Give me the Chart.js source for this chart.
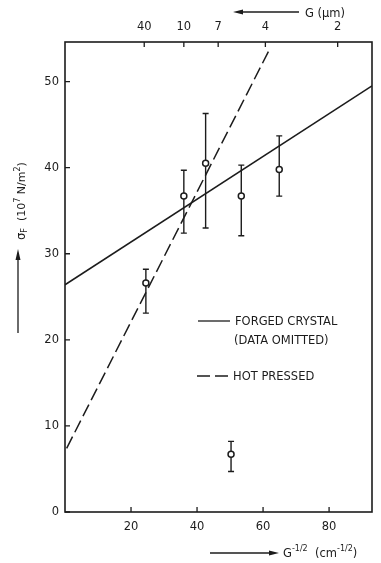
<!DOCTYPE html>
<html>
<head>
<meta charset="utf-8">
<script src="https://cdn.jsdelivr.net/npm/chart.js@4.4.1/dist/chart.umd.min.js"></script>
<style>
  html, body { margin: 0; padding: 0; background: #fff; }
  #wrap { width: 381px; height: 563px; }
</style>
</head>
<body>
<div id="wrap"><canvas id="myChart" width="381" height="563"></canvas></div>
<script>
// measured points, G^-1/2 (cm^-1/2) vs fracture stress (10^7 N/m^2)
const gInv = [24.5, 36.0, 42.6, 53.4, 64.9, 50.3];
const stress = [26.6, 36.7, 40.5, 36.7, 39.8, 6.7];
const stressHigh = [28.2, 39.7, 46.3, 40.3, 43.7, 8.2];
const stressLow = [23.1, 32.4, 33.0, 32.1, 36.7, 4.7];

// fitted lines (end points)
const forgedX = [0, 93];
const forgedY = [26.4, 49.5];
const hotX = [0.5, 62.3];
const hotY = [7.4, 54.0];

// top axis: grain size G (um)
const topTickPos = [24.0, 36.0, 46.4, 60.7, 82.6];
const topTickLabels = ['40', '10', '7', '4', '2'];

const ink = '#1c1c1c';
const font = '"DejaVu Sans", sans-serif';

const toXY = (xs, ys) => xs.map((x, i) => ({ x: x, y: ys[i] }));

const extras = {
  id: 'extras',
  beforeDatasetsDraw(chart) {
    const { ctx } = chart;
    const x = chart.scales.x, y = chart.scales.y;
    ctx.save();
    ctx.strokeStyle = ink;
    ctx.lineWidth = 1.4;
    gInv.forEach((g, i) => {
      const px = x.getPixelForValue(g);
      const top = y.getPixelForValue(stressHigh[i]);
      const bot = y.getPixelForValue(stressLow[i]);
      ctx.beginPath();
      ctx.moveTo(px, top); ctx.lineTo(px, bot);
      ctx.moveTo(px - 3, top); ctx.lineTo(px + 3, top);
      ctx.moveTo(px - 3, bot); ctx.lineTo(px + 3, bot);
      ctx.stroke();
    });
    ctx.restore();
  },
  afterDraw(chart) {
    const { ctx, chartArea: a } = chart;
    const x = chart.scales.x, x2 = chart.scales.x2, y = chart.scales.y;
    ctx.save();
    ctx.strokeStyle = ink;
    ctx.fillStyle = ink;
    // frame
    ctx.lineWidth = 1.6;
    ctx.strokeRect(a.left, a.top, a.right - a.left, a.bottom - a.top);
    // inward tick marks
    ctx.lineWidth = 1.3;
    ctx.beginPath();
    y.ticks.forEach(t => {
      const p = y.getPixelForValue(t.value);
      ctx.moveTo(a.left, p); ctx.lineTo(a.left + 5, p);
    });
    x.ticks.forEach(t => {
      if (t.value === 0) return;
      const p = x.getPixelForValue(t.value);
      ctx.moveTo(p, a.bottom); ctx.lineTo(p, a.bottom - 5);
    });
    x2.ticks.forEach(t => {
      const p = x2.getPixelForValue(t.value);
      ctx.moveTo(p, a.top); ctx.lineTo(p, a.top + 5);
    });
    ctx.stroke();

    // legend
    ctx.lineWidth = 1.3;
    ctx.beginPath();
    ctx.moveTo(198, 321); ctx.lineTo(230, 321);
    ctx.stroke();
    ctx.setLineDash([13, 5]);
    ctx.beginPath();
    ctx.moveTo(197, 376); ctx.lineTo(229, 376);
    ctx.stroke();
    ctx.setLineDash([]);
    ctx.font = '11.5px ' + font;
    ctx.textBaseline = 'middle';
    ctx.textAlign = 'left';
    ctx.fillText('FORGED CRYSTAL', 235, 322);
    ctx.fillText('(DATA OMITTED)', 234, 341);
    ctx.fillText('HOT PRESSED', 233, 377);

    // top axis title with arrow pointing left
    ctx.lineWidth = 1.3;
    ctx.beginPath();
    ctx.moveTo(240, 12); ctx.lineTo(299, 12);
    ctx.stroke();
    ctx.beginPath();
    ctx.moveTo(233, 12); ctx.lineTo(243, 9.5); ctx.lineTo(243, 14.5);
    ctx.closePath(); ctx.fill();
    ctx.fillText('G (\u03bcm)', 305, 14);

    // bottom axis title with arrow pointing right
    ctx.beginPath();
    ctx.moveTo(210, 553); ctx.lineTo(271, 553);
    ctx.stroke();
    ctx.beginPath();
    ctx.moveTo(279, 553); ctx.lineTo(269, 550.5); ctx.lineTo(269, 555.5);
    ctx.closePath(); ctx.fill();
    let cx = 283;
    const run = (txt, size, dy) => {
      ctx.font = size + 'px ' + font;
      ctx.fillText(txt, cx, 553 + dy);
      cx += ctx.measureText(txt).width;
    };
    run('G', 11.5, 1);
    run('-1/2', 8, -4);
    run('  (cm', 11.5, 1);
    run('-1/2', 8, -4);
    run(')', 11.5, 1);

    // y axis title, rotated, with arrow pointing up
    ctx.beginPath();
    ctx.moveTo(18, 333); ctx.lineTo(18, 258);
    ctx.stroke();
    ctx.beginPath();
    ctx.moveTo(18, 249); ctx.lineTo(15.5, 260); ctx.lineTo(20.5, 260);
    ctx.closePath(); ctx.fill();
    ctx.translate(22, 240);
    ctx.rotate(-Math.PI / 2);
    cx = 0;
    const rrun = (txt, size, dy) => {
      ctx.font = size + 'px ' + font;
      ctx.fillText(txt, cx, dy);
      cx += ctx.measureText(txt).width;
    };
    rrun('\u03c3', 11.5, 0);
    rrun('F', 8, 3);
    rrun('  (10', 11, 0);
    rrun('7', 8, -4);
    rrun(' N/m', 11, 0);
    rrun('2', 8, -4);
    rrun(')', 11, 0);
    ctx.restore();
  }
};

const data = {
  datasets: [
    {
      label: 'Forged crystal',
      data: toXY(forgedX, forgedY),
      showLine: true,
      borderColor: ink,
      borderWidth: 1.5,
      pointRadius: 0
    },
    {
      label: 'Hot pressed',
      data: toXY(hotX, hotY),
      showLine: true,
      borderColor: ink,
      borderWidth: 1.5,
      borderDash: [13, 5],
      pointRadius: 0
    },
    {
      label: 'Measured',
      data: toXY(gInv, stress),
      pointRadius: 3,
      pointBorderWidth: 1.5,
      pointBorderColor: ink,
      pointBackgroundColor: '#fff'
    }
  ]
};

const tickFont = { family: font, size: 11.5 };

const config = {
  type: 'scatter',
  data: data,
  options: {
    responsive: false,
    animation: false,
    layout: { padding: { left: 0, right: 9, top: 0, bottom: 0 } },
    plugins: { legend: { display: false }, tooltip: { enabled: false } },
    scales: {
      x: {
        type: 'linear',
        position: 'bottom',
        min: 0, max: 93,
        grid: { display: false, drawTicks: false },
        border: { display: false },
        ticks: {
          stepSize: 20, includeBounds: false, color: ink, font: tickFont, padding: 8,
          maxRotation: 0,
          callback: v => (v === 0 ? '' : v)
        },
        afterFit: s => { s.height = 51; }
      },
      x2: {
        type: 'linear',
        position: 'top',
        min: 0, max: 93,
        grid: { display: false, drawTicks: false },
        border: { display: false },
        afterBuildTicks: s => { s.ticks = topTickPos.map(v => ({ value: v })); },
        ticks: {
          color: ink, font: tickFont, padding: 8, maxRotation: 0, autoSkip: false,
          callback: (v, i) => topTickLabels[i]
        },
        afterFit: s => { s.height = 42; }
      },
      y: {
        min: 0, max: 54.6,
        grid: { display: false, drawTicks: false },
        border: { display: false },
        ticks: { stepSize: 10, includeBounds: false, color: ink, font: tickFont, padding: 6 },
        afterFit: s => { s.width = 65; }
      }
    }
  },
  plugins: [extras]
};

new Chart(document.querySelector('#myChart'), config);
</script>
</body>
</html>
